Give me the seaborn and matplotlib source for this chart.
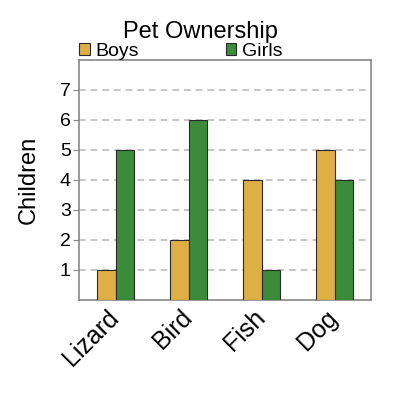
import matplotlib
matplotlib.use("Agg")
import matplotlib.pyplot as plt
import matplotlib.transforms as mtransforms
import seaborn as sns
import pandas as pd

pets = ["Lizard", "Bird", "Fish", "Dog"]
boys = [1, 2, 4, 5]
girls = [5, 6, 1, 4]
groups = ["Boys", "Girls"]
colors = ["#DDAF45", "#3A8C3A"]

df = pd.DataFrame({
    "pet": pets * 2,
    "children": boys + girls,
    "group": ["Boys"] * len(pets) + ["Girls"] * len(pets),
})

sns.set_style("white")
plt.rcParams["font.family"] = ["Liberation Sans", "DejaVu Sans"]
plt.rcParams["text.color"] = "black"
plt.rcParams["axes.labelcolor"] = "black"
plt.rcParams["xtick.color"] = "black"
plt.rcParams["ytick.color"] = "black"

fig = plt.figure(figsize=(4, 4), dpi=100)
ax = fig.add_axes([0.1975, 0.25, 0.73, 0.6])

sns.barplot(data=df, x="pet", y="children", hue="group", order=pets,
            hue_order=groups, palette=colors, width=0.5, dodge=True,
            saturation=1, edgecolor="#2a2a2a", linewidth=0.8, ax=ax, zorder=3)

ax.set_xlim(-0.5, 3.5)
ax.set_ylim(0, 8)
ax.set_yticks(range(1, 8))
ax.yaxis.grid(True, linestyle=(0, (4, 3)), color="#bbbbbb", linewidth=1.2, zorder=0)
ax.tick_params(axis="y", labelsize=14, length=4, color="#888888", left=True, pad=2)
ax.tick_params(axis="x", labelsize=18, length=0, labelrotation=45, pad=4)
shift = mtransforms.ScaledTranslation(8 / 100, 0, fig.dpi_scale_trans)
for lbl in ax.get_xticklabels():
    lbl.set_ha("right")
    lbl.set_transform(lbl.get_transform() + shift)
ax.set_xlabel("")
ax.set_ylabel("Children", fontsize=17, labelpad=14)
for sp in ax.spines.values():
    sp.set_color("#888888")
    sp.set_linewidth(1.2)

ax.legend(loc="lower left", bbox_to_anchor=(0.0, 1.0), ncol=2, frameon=False,
          fontsize=14, handlelength=0.55, handleheight=0.55, handletextpad=0.3,
          columnspacing=4.45, borderaxespad=0, borderpad=0)
fig.text(0.5, 0.905, "Pet Ownership", ha="center", fontsize=17)

fig.savefig("out.png", dpi=100)
